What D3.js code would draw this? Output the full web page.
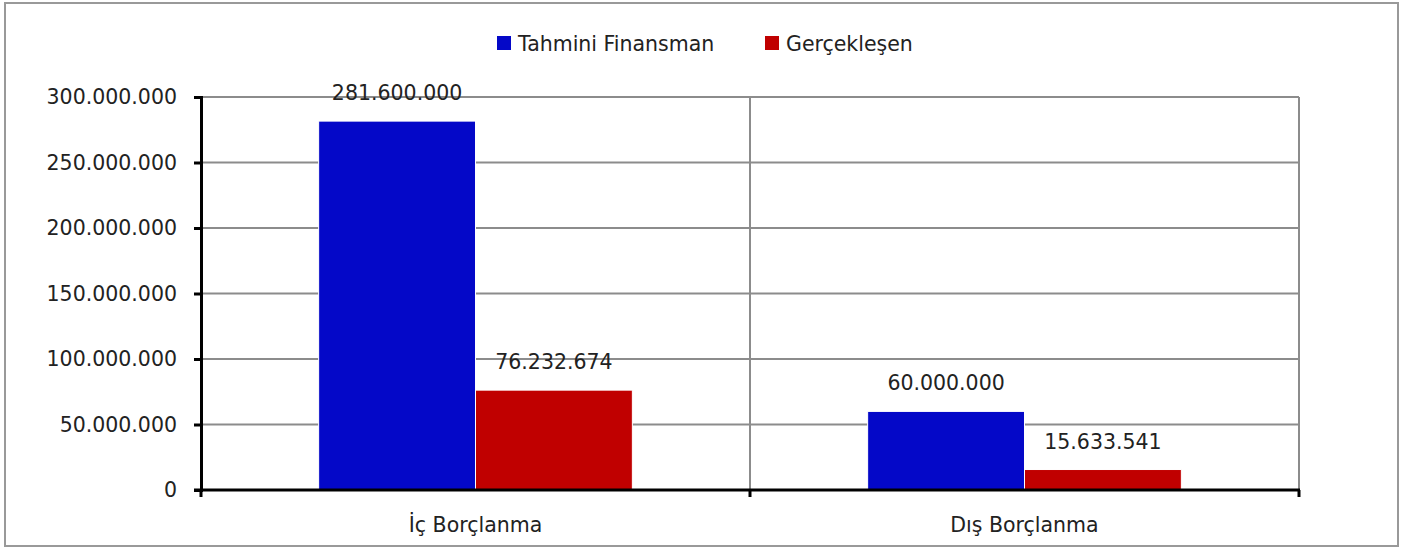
<!DOCTYPE html>
<html>
<head>
<meta charset="utf-8">
<script src="https://d3js.org/d3.v7.min.js"></script>
<style>
  body { margin: 0; background: #fff; }
  text { font-family: "DejaVu Sans", sans-serif; fill: #222; }
</style>
</head>
<body>
<svg id="chart" width="1408" height="549"></svg>
<script>
    // chart values
    var categories = ["İç Borçlanma", "Dış Borçlanma"];
    var seriesNames = ["Tahmini Finansman", "Gerçekleşen"];
    var tahmini = [281600000, 60000000];
    var gerceklesen = [76232674, 15633541];
    var yTicks = [0, 50000000, 100000000, 150000000, 200000000, 250000000, 300000000];
    var colors = ["#0408C8", "#C00000"];

    var svg = d3.select("#chart");
    var plotLeft = 201, plotRight = 1299, plotTop = 97, plotBottom = 490;
    var fs = 20.5;

    var fmt = function (v) {
        return v === 0 ? "0" : d3.format(",")(v).replace(/,/g, ".");
    };

    // outer frame
    svg.append("rect")
        .attr("x", 5).attr("y", 3)
        .attr("width", 1393).attr("height", 543)
        .attr("fill", "none")
        .attr("stroke", "#999")
        .attr("stroke-width", 2);

    var x0 = d3.scaleBand().domain(categories).range([plotLeft, plotRight]);
    var x1 = d3.scaleBand().domain(seriesNames)
        .range([0, x0.bandwidth()])
        .paddingOuter(0.75);
    var y = d3.scaleLinear().domain([0, 300000000]).range([plotBottom, plotTop]);

    // horizontal grid
    svg.append("g").selectAll("line")
        .data(yTicks.slice(1))
        .join("line")
        .attr("x1", plotLeft).attr("x2", plotRight)
        .attr("y1", d => y(d)).attr("y2", d => y(d))
        .attr("stroke", "#8c8c8c")
        .attr("stroke-width", 2);

    // vertical grid at category edges
    svg.append("g").selectAll("line")
        .data(categories)
        .join("line")
        .attr("x1", d => x0(d) + x0.bandwidth())
        .attr("x2", d => x0(d) + x0.bandwidth())
        .attr("y1", plotTop).attr("y2", plotBottom)
        .attr("stroke", "#8c8c8c")
        .attr("stroke-width", 2);

    // bars
    var rows = categories.map(function (c, i) {
        return { cat: c, vals: [tahmini[i], gerceklesen[i]] };
    });
    var groups = svg.append("g").selectAll("g")
        .data(rows)
        .join("g")
        .attr("transform", d => "translate(" + x0(d.cat) + ",0)");

    groups.selectAll("rect")
        .data(d => d.vals.map((v, j) => ({ s: seriesNames[j], v: v, j: j })))
        .join("rect")
        .attr("x", d => x1(d.s))
        .attr("y", d => y(d.v))
        .attr("width", x1.bandwidth())
        .attr("height", d => plotBottom - y(d.v))
        .attr("fill", d => colors[d.j])
        .attr("stroke", "#fff")
        .attr("stroke-width", 1);

    groups.selectAll("text")
        .data(d => d.vals.map((v, j) => ({ s: seriesNames[j], v: v })))
        .join("text")
        .attr("x", d => x1(d.s) + x1.bandwidth() / 2)
        .attr("y", d => y(d.v) - 21)
        .attr("text-anchor", "middle")
        .attr("font-size", fs)
        .text(d => fmt(d.v));

    // y axis
    var yAxis = svg.append("g")
        .attr("transform", "translate(" + plotLeft + ",0)")
        .call(d3.axisLeft(y).tickValues(yTicks).tickFormat(fmt).tickSize(7).tickPadding(17));
    yAxis.select(".domain").attr("stroke", "#000").attr("stroke-width", 3);
    yAxis.selectAll(".tick line").attr("stroke", "#000").attr("stroke-width", 3);
    yAxis.selectAll(".tick text")
        .attr("font-size", fs)
        .attr("font-family", "DejaVu Sans")
        .attr("fill", "#222");

    // x axis
    var xAxis = svg.append("g")
        .attr("transform", "translate(0," + plotBottom + ")");
    xAxis.append("line")
        .attr("x1", plotLeft - 7).attr("x2", plotRight + 1)
        .attr("y1", 0).attr("y2", 0)
        .attr("stroke", "#000").attr("stroke-width", 3);
    xAxis.selectAll(".edge")
        .data([plotLeft].concat(categories.map(c => x0(c) + x0.bandwidth())))
        .join("line")
        .attr("class", "edge")
        .attr("x1", d => d).attr("x2", d => d)
        .attr("y1", 0).attr("y2", 7)
        .attr("stroke", "#000").attr("stroke-width", 3);
    xAxis.selectAll("text")
        .data(categories)
        .join("text")
        .attr("x", d => x0(d) + x0.bandwidth() / 2)
        .attr("y", 42)
        .attr("text-anchor", "middle")
        .attr("font-size", fs)
        .text(d => d);

    // legend
    var legend = svg.append("g");
    var legX = [497, 765];
    seriesNames.forEach(function (s, i) {
        legend.append("rect")
            .attr("x", legX[i]).attr("y", 36)
            .attr("width", 14).attr("height", 14)
            .attr("fill", colors[i]);
        legend.append("text")
            .attr("x", legX[i] + 21).attr("y", 51)
            .attr("font-size", fs)
            .text(s);
    });
</script>
</body>
</html>
